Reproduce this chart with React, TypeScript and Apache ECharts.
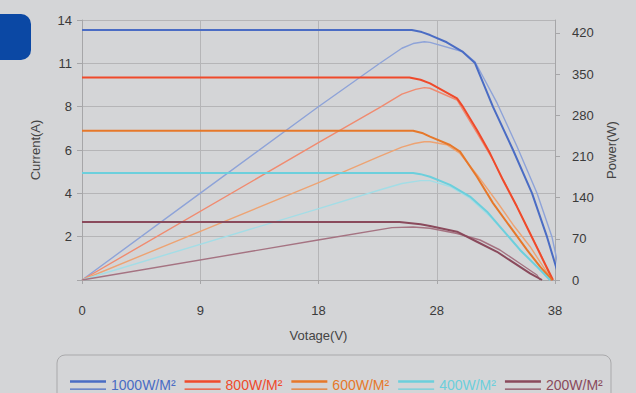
import React, { useEffect, useRef } from "react";
import * as echarts from "echarts";

// ---- Data ----
const IRRADIANCE = ["1000W/M²", "800W/M²", "600W/M²", "400W/M²", "200W/M²"];

const VOLTAGE_TICK_LABELS = ["0", "9", "18", "28", "38"];
const CURRENT_TICK_LABELS = ["", "2", "4", "6", "8", "11", "14"];
const POWER_TICKS = [0, 70, 140, 210, 280, 350, 420];

// [voltage, current]
const CURRENT_1000 = [[0, 13.46], [26.5, 13.46], [27.3, 13.35], [27.96, 13.19], [29.3, 12.8], [30.6, 12.28], [31.57, 11.68], [33.02, 9.32], [34.63, 7.0], [36.15, 4.68], [37.36, 2.32], [38.4, 0]];
const CURRENT_800 = [[0, 10.9], [26.3, 10.9], [27.2, 10.78], [27.96, 10.59], [30.13, 9.78], [30.61, 9.32], [31.73, 8.08], [32.78, 6.82], [33.82, 5.38], [34.95, 3.94], [35.99, 2.52], [37.04, 1.08], [37.84, 0]];
const CURRENT_600 = [[0, 8.04], [26.6, 8.04], [27.4, 7.9], [27.96, 7.72], [29.57, 7.27], [30.37, 6.91], [31.73, 5.56], [33.02, 4.14], [34.39, 2.87], [35.75, 1.62], [36.8, 0.72], [37.76, 0]];
const CURRENT_400 = [[0, 5.76], [26.6, 5.76], [27.2, 5.7], [27.96, 5.56], [29.57, 5.12], [31.17, 4.49], [32.54, 3.68], [33.82, 2.69], [35.19, 1.62], [36.55, 0.72], [37.6, 0]];
const CURRENT_200 = [[0, 3.12], [25.5, 3.12], [27.2, 3.0], [27.96, 2.91], [30.13, 2.6], [31.73, 2.06], [33.34, 1.52], [34.95, 0.81], [35.99, 0.36], [36.96, 0]];

// [voltage, power]
const POWER_1000 = [[0, 0], [9.4, 146], [18.96, 294], [23.9, 368], [25.7, 394], [26.6, 402], [27.5, 405], [27.96, 404], [30.61, 388], [31.57, 371], [33.34, 301], [34.95, 227], [36.55, 148], [37.76, 73], [38.5, 0]];
const POWER_800 = [[0, 0], [18.96, 233], [23.9, 293], [25.7, 316], [26.8, 324], [27.5, 327], [27.96, 326], [30.13, 306], [30.61, 289], [31.73, 250], [33.02, 204], [34.39, 148], [35.75, 90], [36.8, 46], [37.76, 0]];
const POWER_600 = [[0, 0], [18.96, 165], [23.9, 210], [25.7, 226], [26.7, 232], [27.5, 235], [27.96, 235], [29.3, 230], [30.37, 215], [31.73, 179], [33.34, 133], [34.63, 94], [35.99, 57], [37.04, 23], [37.76, 0]];
const POWER_400 = [[0, 0], [18.96, 121], [23.9, 153], [25.7, 164], [27.2, 169], [27.96, 169], [29.57, 159], [31.17, 139], [32.78, 108], [34.14, 77], [35.43, 46], [36.8, 17], [37.6, 0]];
const POWER_200 = [[0, 0], [18.96, 68], [24.9, 89], [26.6, 90], [27.96, 88], [30.13, 79], [31.98, 68], [33.58, 51], [35.19, 28], [36.55, 8.5], [36.8, 0]];

const CURRENTS = [CURRENT_1000, CURRENT_800, CURRENT_600, CURRENT_400, CURRENT_200];
const POWERS = [POWER_1000, POWER_800, POWER_600, POWER_400, POWER_200];

const CURRENT_COLORS = ["#4a6cc4", "#ef4a2b", "#e6782a", "#6ccfdc", "#8a4a5c"];
const POWER_COLORS = ["#8ea3d8", "#f08b70", "#eda373", "#a3dde6", "#a57382"];

const X_MAX = 38;
const X_STEP = X_MAX / (VOLTAGE_TICK_LABELS.length - 1);
const I_MAX = 14;
const I_STEP = I_MAX / (CURRENT_TICK_LABELS.length - 1);

const FONT = "'Liberation Sans', Arial, sans-serif";

export default function App() {
  const ref = useRef<HTMLDivElement>(null);

  useEffect(() => {
    document.body.style.margin = "0";
    const chart = echarts.init(ref.current as HTMLDivElement, null, { renderer: "svg" });

    const series: any[] = [];
    IRRADIANCE.forEach((name, i) => {
      series.push({
        name,
        type: "line",
        yAxisIndex: 0,
        data: CURRENTS[i],
        showSymbol: false,
        smooth: false,
        lineStyle: { width: 2, color: CURRENT_COLORS[i], join: "round" },
        itemStyle: { color: CURRENT_COLORS[i] },
        z: 3,
      });
    });
    IRRADIANCE.forEach((name, i) => {
      series.push({
        name,
        type: "line",
        yAxisIndex: 1,
        data: POWERS[i],
        showSymbol: false,
        smooth: false,
        lineStyle: { width: 1.4, color: POWER_COLORS[i], join: "round" },
        itemStyle: { color: POWER_COLORS[i] },
        z: 2,
      });
    });

    chart.setOption({
      animation: false,
      backgroundColor: "#d4d5d7",
      textStyle: { fontFamily: FONT },
      grid: { left: 82, right: 81, top: 20, bottom: 113, containLabel: false, outerBoundsMode: "none" },
      xAxis: {
        type: "value",
        min: 0,
        max: X_MAX,
        interval: X_STEP,
        name: "Votage(V)",
        nameLocation: "middle",
        nameGap: 49,
        nameTextStyle: { fontSize: 13, color: "#444", fontFamily: FONT },
        axisLine: { show: true, lineStyle: { color: "#a6a6a8" } },
        axisTick: { show: true, length: 4, lineStyle: { color: "#a6a6a8" } },
        axisLabel: {
          margin: 24,
          fontSize: 13,
          color: "#3a3a3a",
          fontFamily: FONT,
          formatter: (v: number) => VOLTAGE_TICK_LABELS[Math.round(v / X_STEP)] ?? "",
        },
        splitLine: { show: true, lineStyle: { color: "#b5b5b7", width: 1 } },
      },
      yAxis: [
        {
          type: "value",
          min: 0,
          max: I_MAX,
          interval: I_STEP,
          position: "left",
          name: "Current(A)",
          nameLocation: "middle",
          nameGap: 40,
          nameTextStyle: { fontSize: 13, color: "#444", fontFamily: FONT },
          axisLine: { show: true, lineStyle: { color: "#a6a6a8" } },
          axisTick: { show: true, length: 5, lineStyle: { color: "#a6a6a8" } },
          axisLabel: {
            margin: 10,
            fontSize: 13,
            color: "#3a3a3a",
            fontFamily: FONT,
            formatter: (v: number) => CURRENT_TICK_LABELS[Math.round(v / I_STEP)] ?? "",
          },
          splitLine: { show: true, lineStyle: { color: "#b5b5b7", width: 1 } },
        },
        {
          type: "value",
          min: 0,
          max: 442,
          interval: 70,
          position: "right",
          name: "Power(W)",
          nameLocation: "middle",
          nameGap: 41,
          nameTextStyle: { fontSize: 13, color: "#444", fontFamily: FONT },
          axisLine: { show: true, lineStyle: { color: "#a6a6a8" } },
          axisTick: { show: true, length: 5, customValues: POWER_TICKS, lineStyle: { color: "#a6a6a8" } },
          axisLabel: {
            margin: 17,
            fontSize: 13,
            color: "#3a3a3a",
            fontFamily: FONT,
            customValues: POWER_TICKS,
          },
          splitLine: { show: false },
        },
      ],
      legend: {
        left: 65,
        top: 373,
        itemWidth: 36,
        itemHeight: 10,
        itemGap: 9,
        selectedMode: false,
        icon: "path://M0,0H36V2.6H0Z M0,8.4H36V9.6H0Z",
        textStyle: { fontSize: 14, fontFamily: FONT },
        data: IRRADIANCE.map((name, i) => ({ name, textStyle: { color: CURRENT_COLORS[i] } })),
      },
      graphic: [
        {
          type: "rect",
          shape: { x: 0, y: 14, width: 31, height: 46, r: [0, 10, 10, 0] },
          style: { fill: "#0b48a4" },
        },
        {
          type: "rect",
          shape: { x: 57, y: 355, width: 554, height: 60, r: 8 },
          style: { fill: "none", stroke: "#a9a9ab", lineWidth: 1 },
        },
      ],
      series,
    });

    return () => chart.dispose();
  }, []);

  return (
    <div
      ref={ref}
      style={{ position: "fixed", left: 0, top: 0, width: 636, height: 393 }}
    />
  );
}
